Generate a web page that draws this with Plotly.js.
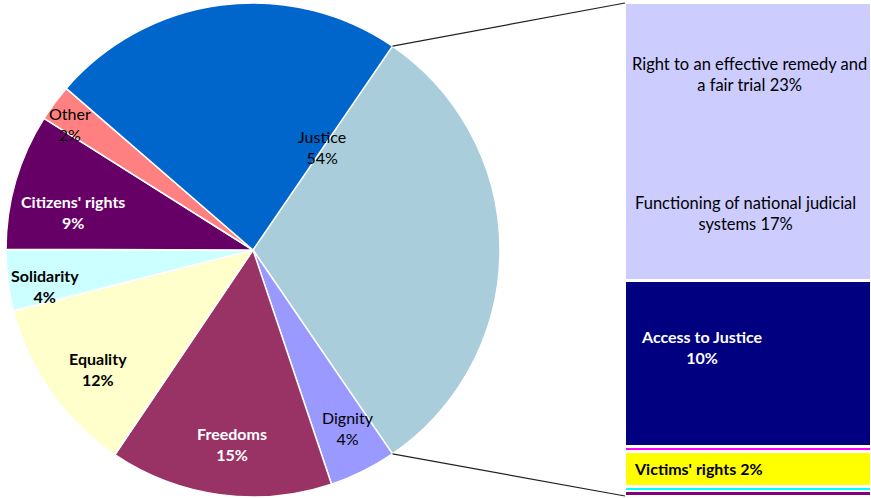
<!DOCTYPE html>
<html>
<head>
<meta charset="utf-8">
<script src="https://cdn.plot.ly/plotly-3.0.1.min.js"></script>
<style>html,body{margin:0;padding:0;background:#fff;}#chart{width:871px;height:498px;}</style>
</head>
<body>
<div id="chart"></div>
<script>
// ---- data ----
const pieLabels = ['Dignity', 'Freedoms', 'Equality', 'Solidarity', "Citizens' rights", 'Other', 'Right to an effective remedy and a fair trial'];
const pieValues = [4.4, 14.6, 11.6, 4.0, 8.9, 2.4, 23.2];
const pieColors = ['#9999FF', '#993366', '#FFFFCC', '#CCFFFF', '#660066', '#FF8080', '#0066CC'];
const aggLabel = 'Justice (other)';
const aggColor = '#A9CDDA';

// bar segments, listed top to bottom
const barLabels = ['Functioning of national judicial systems', 'Access to Justice', 'Presumption of innocence and right of defence', "Victims' rights", 'Ne bis in idem', 'Legality and proportionality'];
const barValues = [17.4, 10.4, 0.3, 2.2, 0.3, 0.3];
const barColors = ['#CCCCFF', '#000080', '#FF00FF', '#FFFF00', '#00FFFF', '#800080'];

// ---- geometry helpers (layout only) ----
const W = 871, H = 498;
const px = x => x / W, py = y => 1 - y / H;
const pieDom = {x: [px(6), px(500)], y: [py(497), py(3)]};
const barDomX = [px(625), 1];
const barDomY = [py(496), py(3)];

const aggValue = barValues.reduce((a, b) => a + b, 0);
const total = aggValue + pieValues.reduce((a, b) => a + b, 0);
const aggAngle = aggValue / total * 360;
const rotation = 90 - aggAngle / 2;

const pie = {
  type: 'pie',
  labels: [aggLabel].concat(pieLabels),
  values: [aggValue].concat(pieValues),
  marker: {colors: [aggColor].concat(pieColors), line: {color: '#FFFFFF', width: 1.5}},
  sort: false,
  direction: 'clockwise',
  rotation: rotation,
  textinfo: 'none',
  hoverinfo: 'label+percent',
  domain: pieDom,
  showlegend: false
};

const traces = [pie];
for (let i = barValues.length - 1; i >= 0; i--) {
  traces.push({
    type: 'bar',
    x: ['Justice'],
    y: [barValues[i]],
    name: barLabels[i],
    width: 1,
    marker: {color: barColors[i], line: {color: '#FFFFFF', width: 2.5}},
    xaxis: 'x', yaxis: 'y',
    hoverinfo: 'name+y',
    showlegend: false
  });
}

// connector lines from pie aggregate slice edges to bar corners
const cxp = (pieDom.x[0] + pieDom.x[1]) / 2 * W;
const cyp = (1 - (pieDom.y[0] + pieDom.y[1]) / 2) * H;
const rp = Math.min((pieDom.x[1] - pieDom.x[0]) * W, (pieDom.y[1] - pieDom.y[0]) * H) / 2;
function edge(deg) {
  const a = deg * Math.PI / 180;
  return [cxp + rp * Math.sin(a), cyp - rp * Math.cos(a)];
}
const e0 = edge(rotation), e1 = edge(rotation + aggAngle);
const shapes = [
  {type: 'line', xref: 'paper', yref: 'paper', x0: px(e0[0]), y0: py(e0[1]), x1: barDomX[0], y1: barDomY[1], line: {color: '#222222', width: 1.2}},
  {type: 'line', xref: 'paper', yref: 'paper', x0: px(e1[0]), y0: py(e1[1]), x1: barDomX[0], y1: barDomY[0], line: {color: '#222222', width: 1.2}}
];

const F = 'Lato, "Open Sans", sans-serif';
function ann(text, x, y, opts) {
  opts = opts || {};
  return Object.assign({
    text: text, xref: 'paper', yref: 'paper', x: px(x), y: py(y),
    xanchor: 'center', yanchor: 'middle', showarrow: false, align: 'center',
    font: {family: F, size: opts.size || 16, color: opts.color || '#000000', weight: opts.bold ? 'bold' : 'normal'}
  }, opts.extra || {});
}
const annotations = [
  ann('Justice<br>54%', 322, 147),
  ann('Other<br>2%', 70, 124),
  ann("Citizens' rights<br>9%", 73, 212, {color: '#FFFFFF', bold: true}),
  ann('Solidarity<br>4%', 45, 286, {bold: true}),
  ann('Equality<br>12%', 98, 369, {bold: true}),
  ann('Freedoms<br>15%', 232, 444, {color: '#FFFFFF', bold: true}),
  ann('Dignity<br>4%', 348, 428),
  ann('Right to an effective remedy and<br>a fair trial 23%', 749, 75, {size: 16.5}),
  ann('Functioning of national judicial<br>systems 17%', 745, 213, {size: 16.5}),
  ann('Access to Justice<br>10%', 702, 347, {color: '#FFFFFF', bold: true}),
  ann("Victims' rights 2%", 698, 468, {bold: true})
];

const layout = {
  width: W, height: H,
  margin: {l: 0, r: 0, t: 0, b: 0, pad: 0},
  paper_bgcolor: '#FFFFFF', plot_bgcolor: 'rgba(0,0,0,0)',
  barmode: 'stack',
  bargap: 0,
  showlegend: false,
  xaxis: {domain: barDomX, range: [-0.5, 0.5], visible: false, fixedrange: true},
  yaxis: {domain: barDomY, range: [0, aggValue], visible: false, fixedrange: true},
  shapes: shapes,
  annotations: annotations
};

Plotly.newPlot('chart', traces, layout, {displayModeBar: false, staticPlot: true});
</script>
</body>
</html>
